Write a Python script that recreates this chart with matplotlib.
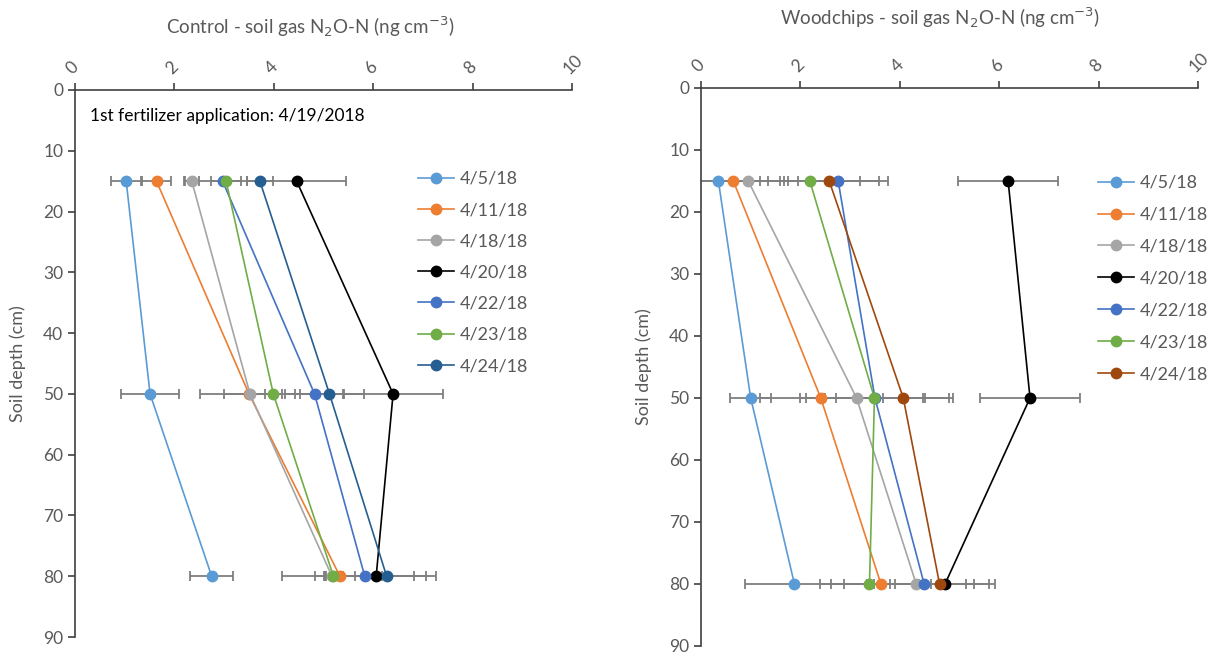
import matplotlib
matplotlib.use("Agg")
import matplotlib.pyplot as plt

plt.rcParams['font.family'] = ['Lato', 'DejaVu Sans']

depths = [15, 50, 80]
dates = ["4/5/18", "4/11/18", "4/18/18", "4/20/18", "4/22/18", "4/23/18", "4/24/18"]

control_vals = [
    [1.03, 1.51, 2.75],
    [1.64, 3.50, 5.33],
    [2.35, 3.52, 5.17],
    [4.46, 6.40, 6.06],
    [2.97, 4.82, 5.83],
    [3.04, 3.99, 5.20],
    [3.72, 5.12, 6.27],
]
control_err = [
    [0.30, 0.59, 0.43],
    [0.30, 0.50, 0.30],
    [0.15, 1.00, 1.00],
    [1.00, 1.00, 1.00],
    [0.75, 0.60, 1.00],
    [0.30, 0.17, 0.20],
    [0.26, 0.70, 1.00],
]
wood_vals = [
    [0.35, 1.00, 1.88],
    [0.65, 2.41, 3.62],
    [0.95, 3.13, 4.33],
    [6.18, 6.62, 4.91],
    [2.76, 3.50, 4.49],
    [2.19, 3.49, 3.39],
    [2.58, 4.07, 4.80],
]
wood_err = [
    [1.33, 0.41, 1.00],
    [0.70, 0.30, 1.00],
    [1.00, 1.95, 1.00],
    [1.00, 1.00, 1.00],
    [1.00, 1.00, 1.00],
    [1.00, 1.50, 1.00],
    [1.00, 0.40, 1.00],
]
x_ticks = [0, 2, 4, 6, 8, 10]
y_ticks = [0, 10, 20, 30, 40, 50, 60, 70, 80, 90]

control_colors = ["#5B9BD5", "#ED7D31", "#A5A5A5", "#000000", "#4472C4", "#70AD47", "#255E91"]
wood_colors = ["#5B9BD5", "#ED7D31", "#A5A5A5", "#000000", "#4472C4", "#70AD47", "#9E480E"]

TXT = "#595959"
SPINE = "#404040"

fig = plt.figure(figsize=(12.25, 6.57), dpi=100)
axL = fig.add_axes([75/1225, 1-637/657, 497/1225, 547/657])
axR = fig.add_axes([701/1225, 1-646/657, 497/1225, 558/657])


def style(ax, title, title_y):
    ax.set_xlim(0, 10)
    ax.set_ylim(90, 0)
    ax.xaxis.tick_top()
    ax.set_xticks(x_ticks)
    ax.set_yticks(y_ticks)
    for s in ["right", "bottom"]:
        ax.spines[s].set_visible(False)
    for s in ["left", "top"]:
        ax.spines[s].set_color(SPINE)
        ax.spines[s].set_linewidth(1.2)
    ax.tick_params(axis='both', direction='out', length=5, width=1.2, color=SPINE,
                   labelcolor=TXT, labelsize=12.5)
    ax.tick_params(axis='x', pad=4)
    for lab in ax.get_xticklabels():
        lab.set_rotation(45)
        lab.set_ha('left')
        lab.set_va('bottom')
        lab.set_rotation_mode('anchor')
    ax.set_ylabel("Soil depth (cm)", fontsize=13, color=TXT, labelpad=12)
    fig.text(title_y[0], title_y[1], title, fontsize=13.5, color=TXT, ha='center', va='center')


def draw(ax, vals, errs, colors):
    for i, d in enumerate(dates):
        ax.errorbar(vals[i], depths, xerr=errs[i], fmt='none', ecolor='#7F7F7F',
                    elinewidth=1.3, capsize=3.5, capthick=1.3, zorder=2)
    for i, d in enumerate(dates):
        ax.plot(vals[i], depths, color=colors[i], lw=1.2, marker='o', markersize=7.5,
                label=d, zorder=3)


draw(axL, control_vals, control_err, control_colors)
draw(axR, wood_vals, wood_err, wood_colors)

style(axL, "Control - soil gas N$_2$O-N (ng cm$^{-3}$)", (310/1225, 1-27/657))
style(axR, "Woodchips - soil gas N$_2$O-N (ng cm$^{-3}$)", (940/1225, 1-18/657))

axL.text(0.3, 4.2, "1st fertilizer application: 4/19/2018", fontsize=12.5, color='black',
         ha='left', va='center')

for ax, anchor, sp in [(axL, ((418-75)/497, 1-(171-90)/547), 0.84),
                       (axR, ((1098-701)/497, 1-(175-88)/558), 0.88)]:
    leg = ax.legend(loc='upper left', bbox_to_anchor=anchor, frameon=False, fontsize=13,
                    handlelength=2.0, handletextpad=0.3, labelspacing=sp, borderpad=0,
                    borderaxespad=0)
    for t in leg.get_texts():
        t.set_color(TXT)

fig.savefig("out.png", dpi=100)
